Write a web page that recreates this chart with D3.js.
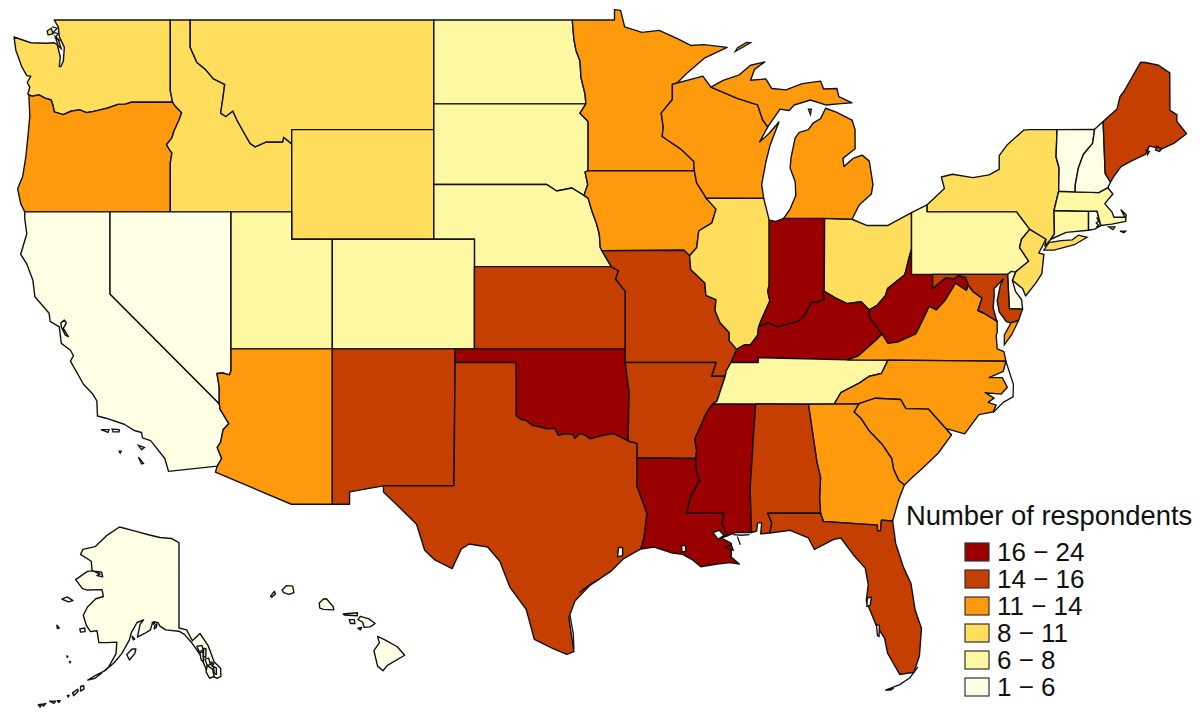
<!DOCTYPE html>
<html>
<head>
<meta charset="utf-8">
<script src="https://cdnjs.cloudflare.com/ajax/libs/d3/7.8.5/d3.min.js"></script>
<style>
html, body { margin: 0; background: #fff; }
svg { display: block; }
text { font-family: "Liberation Sans", Arial, sans-serif; fill: #111; }
</style>
</head>
<body>
<svg id="map" width="1200" height="720"></svg>
<script>
// legend bins, darkest first
var binLabels = ['16 \u2212 24', '14 \u2212 16', '11 \u2212 14', '8 \u2212 11', '6 \u2212 8', '1 \u2212 6'];
var binColors = ['#9a0000', '#c43f00', '#ff9a0c', '#ffde5e', '#fff8a2', '#ffffe6'];
var binStates = [
    ['IN', 'KY', 'WV', 'OK', 'LA', 'MS'],
    ['KS', 'MO', 'AR', 'NM', 'TX', 'AL', 'FL', 'ME', 'MD'],
    ['OR', 'MN', 'IA', 'WI', 'MI', 'AZ', 'GA', 'SC', 'NC', 'VA'],
    ['WA', 'ID', 'MT', 'WY', 'IL', 'OH', 'NY', 'NJ'],
    ['ND', 'SD', 'NE', 'UT', 'CO', 'TN', 'PA', 'MA', 'CT'],
    ['CA', 'NV', 'VT', 'NH', 'DE', 'RI', 'AK', 'HI']
];

// shared borders, lon/lat
var columbia = [[-124.0,46.27],[-123.85,46.22],[-123.5,46.27],[-123.2,46.15],[-122.9,46.08],[-122.8,45.85],[-122.75,45.65],[-122.3,45.55],[-121.9,45.68],[-121.5,45.72],[-121.15,45.62],[-120.9,45.65],[-120.5,45.72],[-120.15,45.78],[-119.6,45.92],[-119.25,45.93],[-118.95,46.0],[-116.92,46.0]];
var snake = [[-116.92,46.0],[-116.78,45.85],[-116.47,45.62],[-116.6,45.35],[-116.85,44.95],[-116.95,44.7],[-117.22,44.45],[-117.03,44.22],[-116.95,44.15],[-117.03,43.8],[-117.03,42]];
var bitterroot = [[-116.05,49],[-116.05,48],[-115.72,47.45],[-115.3,47.2],[-114.9,46.85],[-114.35,46.65],[-114.45,46.1],[-114.55,45.6],[-114.3,45.48],[-113.95,45.68],[-113.75,45.35],[-113.45,44.95],[-113.1,44.5],[-112.85,44.37],[-112.3,44.55],[-111.5,44.55],[-111.45,44.72],[-111.05,44.48]];
var redND = [[-97.23,49],[-97.15,48.3],[-97.05,47.9],[-96.85,47.5],[-96.8,46.9],[-96.6,46.3],[-96.56,45.94]];
var bigStone = [[-96.56,45.94],[-96.85,45.6],[-96.45,45.3],[-96.45,43.5]];
var siouxIA = [[-96.45,43.5],[-96.6,43.45],[-96.47,43.0],[-96.65,42.6],[-96.45,42.5]];
var neSD = [[-104.05,43],[-98.5,43],[-98.0,42.76],[-97.25,42.87],[-96.7,42.62],[-96.45,42.5]];
var moRiverIA = [[-96.45,42.5],[-96.25,42.0],[-96.05,41.6],[-95.9,41.2],[-95.85,40.7],[-95.77,40.58]];
var moRiverKS = [[-95.77,40.58],[-95.31,40],[-94.95,39.85],[-95.1,39.55],[-94.62,39.1]];
var stCroix = [[-92.07,46.7],[-92.3,46.65],[-92.3,46.1],[-92.85,45.6],[-92.75,45.1],[-92.8,44.75],[-91.9,44.3],[-91.25,43.85],[-91.22,43.5]];
var missWI = [[-91.22,43.5],[-91.1,43.05],[-90.75,42.65],[-90.64,42.5]];
var missIL = [[-90.64,42.5],[-90.15,42.1],[-90.35,41.6],[-91.0,41.3],[-91.1,40.7],[-91.45,40.4]];
var desMoines = [[-91.45,40.4],[-91.73,40.6]];
var missMO = [[-91.45,40.4],[-91.4,39.9],[-90.7,39.4],[-90.65,38.95],[-90.15,38.8],[-90.2,38.4],[-89.95,37.95],[-89.5,37.6],[-89.5,37.3],[-89.13,36.98]];
var wabash = [[-87.53,41.7],[-87.53,39.35],[-87.6,39.1],[-87.5,38.75],[-87.95,38.0],[-88.05,37.8]];
var ohioIL = [[-88.05,37.8],[-88.1,37.5],[-88.45,37.15],[-88.75,37.15],[-89.13,36.98]];
var ohioIN = [[-84.82,39.1],[-84.9,39.05],[-84.8,38.8],[-85.2,38.7],[-85.45,38.7],[-85.75,38.27],[-86.1,38.0],[-86.5,37.93],[-87.1,37.8],[-87.6,37.95],[-88.05,37.8]];
var ohioKY = [[-82.6,38.42],[-83.0,38.72],[-83.7,38.65],[-84.25,38.85],[-84.82,39.1]];
var ohioWV = [[-80.52,40.64],[-80.65,40.3],[-80.85,39.7],[-81.7,39.2],[-81.8,38.95],[-82.2,38.6],[-82.6,38.42]];
var tug = [[-82.6,38.42],[-82.6,38.17],[-81.97,37.54]];
var kyVA = [[-83.68,36.6],[-83.13,36.75],[-82.3,37.3],[-81.97,37.54]];
var wvVA = [[-81.97,37.54],[-81.68,37.2],[-81.2,37.25],[-80.3,37.55],[-80.0,38.0],[-79.65,38.55],[-79.3,38.42],[-78.87,38.76],[-78.35,39.4],[-77.82,39.13],[-77.72,39.32]];
var potomacHigh = [[-77.72,39.32],[-77.85,39.6],[-78.2,39.68],[-78.45,39.55],[-78.8,39.6],[-79.05,39.47],[-79.48,39.2],[-79.48,39.72]];
var potomacLow = [[-76.3,38.0],[-76.95,38.3],[-77.25,38.4],[-77.05,38.85],[-77.5,39.1],[-77.72,39.32]];
var bootheel = [[-89.13,36.98],[-89.42,36.5],[-89.7,36.0],[-90.37,36.0],[-90.15,36.5]];
var missTN = [[-89.42,36.5],[-89.65,36.2],[-89.7,36.0],[-90.1,35.1],[-90.3,35.0]];
var missAR = [[-90.3,35.0],[-90.6,34.7],[-90.9,34.2],[-91.2,33.7],[-91.1,33.3],[-91.15,33.0]];
var missLA = [[-91.15,33.0],[-91.1,32.5],[-90.95,32.2],[-91.4,31.6],[-91.6,31.0]];
var redOK = [[-94.48,33.64],[-95.2,33.91],[-95.7,33.85],[-96.36,33.72],[-96.6,33.85],[-96.85,33.91],[-97.1,33.73],[-97.2,33.87],[-97.6,33.9],[-97.92,33.85],[-98.1,34.1],[-98.49,34.08],[-98.8,34.15],[-99.18,34.2],[-99.5,34.38],[-99.75,34.42],[-100,34.56]];
var sabine = [[-94.04,33.02],[-94.04,32.0],[-93.55,31.0],[-93.7,30.1],[-93.85,29.7]];
var tnNC = [[-81.68,36.59],[-82.0,36.1],[-82.6,36.0],[-83.1,35.75],[-84.0,35.4],[-84.32,34.99]];
var savannah = [[-83.11,35.0],[-83.35,34.7],[-83.0,34.45],[-82.6,34.0],[-81.95,33.5],[-81.5,33.0],[-81.4,32.6],[-81.15,32.2],[-80.87,32.03]];
var ncSC = [[-83.11,35.0],[-82.3,35.2],[-81.05,35.15],[-80.8,34.82],[-79.68,34.8],[-78.55,33.86]];
var gaAL = [[-85.6,34.98],[-85.18,32.87],[-85.0,32.3],[-85.05,31.55],[-85.0,31.0]];
var gaFL = [[-85.0,31.0],[-84.86,30.7],[-82.2,30.57],[-82.2,30.36],[-82.05,30.36],[-82.0,30.75],[-81.45,30.72]];
var pearl = [[-89.75,31.0],[-89.85,30.65],[-89.6,30.18]];
var delaware = [[-74.7,41.36],[-75.1,41.0],[-75.2,40.7],[-74.75,40.2],[-75.4,39.8]];
var lakeChamplain = [[-73.35,45],[-73.4,44],[-73.25,43.6],[-73.27,42.75]];
var connRiver = [[-71.5,45.01],[-71.6,44.5],[-72.05,44.1],[-72.3,43.6],[-72.45,43.0],[-72.46,42.73]];

function rev(a) { return a.slice().reverse(); }
function ring() { return [].concat.apply([], arguments); }

var outlines = {
    WA: ring([[-117.03,49],[-122.75,49],[-122.55,48.75],[-122.5,48.4],[-122.25,48.0],[-122.3,47.5],[-122.42,47.3],[-122.5,47.3],[-122.45,47.65],[-122.6,48.1],[-122.75,48.17],[-123.1,48.15],[-123.9,48.17],[-124.73,48.38],[-124.64,47.9],[-124.35,47.3],[-124.1,46.97],[-123.9,46.95],[-124.08,46.72],[-123.95,46.55],[-124.05,46.3]], columbia, [[-117.03,46.42]]),
    OR: ring(columbia, snake, [[-124.2,42],[-124.4,42.3],[-124.55,42.84],[-124.3,43.3],[-124.15,44.0],[-124.05,44.7],[-123.95,45.5]]),
    ID: ring([[-117.03,49]], bitterroot, [[-111.05,42],[-117.03,42]], rev(snake), [[-117.03,46.42]]),
    MT: ring(bitterroot, [[-111.05,45],[-104.05,45],[-104.05,49]]),
    WY: [[-111.05,45],[-104.05,45],[-104.05,41],[-111.05,41]],
    ND: ring([[-104.05,49]], redND, [[-104.05,45.94]]),
    SD: ring([[-104.05,45.94]], bigStone, siouxIA, rev(neSD)),
    NE: ring(neSD, moRiverIA, [[-95.31,40],[-102.05,40],[-102.05,41],[-104.05,41]]),
    CA: [[-124.2,42],[-120,42],[-120,39],[-114.62,35],[-114.58,34.8],[-114.15,34.27],[-114.43,34.05],[-114.55,33.6],[-114.72,33.4],[-114.5,33],[-114.72,32.72],[-117.12,32.53],[-117.3,33],[-118,33.65],[-118.4,33.75],[-118.45,33.95],[-118.8,34.02],[-119.3,34.25],[-120.2,34.47],[-120.62,34.55],[-120.65,35.1],[-120.85,35.35],[-121.3,35.7],[-121.95,36.55],[-121.8,36.75],[-121.95,36.95],[-122.4,37.2],[-122.5,37.8],[-122.95,38],[-123,38.3],[-123.7,38.9],[-123.8,39.5],[-124.1,40.1],[-124.4,40.45],[-124.1,41.2],[-124.2,41.75]],
    NV: [[-120,42],[-114.04,42],[-114.04,36.2],[-114.12,36.05],[-114.45,36.12],[-114.73,36.1],[-114.62,35.6],[-114.62,35],[-120,39]],
    UT: [[-114.04,42],[-111.05,42],[-111.05,41],[-109.05,41],[-109.05,37],[-114.04,37]],
    CO: [[-109.05,41],[-102.05,41],[-102.05,37],[-109.05,37]],
    AZ: [[-114.04,37],[-109.05,37],[-109.05,31.33],[-111.07,31.33],[-114.81,32.5],[-114.72,32.72],[-114.5,33],[-114.72,33.4],[-114.55,33.6],[-114.43,34.05],[-114.15,34.27],[-114.58,34.8],[-114.62,35],[-114.62,35.6],[-114.73,36.1],[-114.45,36.12],[-114.12,36.05],[-114.04,36.2]],
    NM: [[-109.05,37],[-103,37],[-103.06,32],[-106.53,32],[-108.2,31.78],[-108.2,31.33],[-109.05,31.33]],
    KS: ring([[-102.05,40],[-95.31,40]], moRiverKS.slice(2), [[-94.62,37],[-102.05,37]]),
    OK: ring([[-103,37],[-94.62,37],[-94.62,36.5],[-94.43,35.4]], redOK, [[-100,36.5],[-103,36.5]]),
    TX: ring([[-103,36.5],[-100,36.5]], rev(redOK), [[-94.04,33.55]], sabine, [[-94.7,29.35],[-95.3,28.9],[-96.4,28.35],[-97.1,27.8],[-97.4,27.2],[-97.15,25.95],[-97.5,25.85],[-98.2,26.07],[-99.1,26.4],[-99.5,27.5],[-100.3,28.3],[-100.8,29.25],[-101.4,29.77],[-102.3,29.88],[-102.7,29.7],[-103.15,28.98],[-104,29.3],[-104.5,29.65],[-104.9,30.6],[-106,31.4],[-106.53,31.78],[-106.53,32],[-103.06,32]]),
    MN: ring([[-97.23,49],[-95.15,49],[-95.15,49.38],[-94.85,49.35],[-94.65,48.75],[-93.8,48.55],[-92.95,48.62],[-92,48.3],[-91.4,48.07],[-90.75,48.1],[-89.6,48],[-90.7,47.62],[-91.6,47.05]], stCroix, rev(bigStone), rev(redND)),
    IA: ring(rev(siouxIA), missWI, missIL, desMoines, rev(moRiverIA)),
    MO: ring(rev(desMoines), missMO, bootheel, [[-94.62,36.5],[-94.62,39.1]], rev(moRiverKS)),
    AR: ring([[-94.62,36.5],[-90.15,36.5],[-90.37,36],[-89.7,36],[-90.1,35.1]], missAR, [[-94.04,33.02],[-94.04,33.55],[-94.48,33.64],[-94.43,35.4]]),
    LA: ring(sabine, [[-93.2,29.77],[-92.3,29.55],[-91.8,29.5],[-91.3,29.3],[-90.9,29.05],[-90.1,29.15],[-89.45,29.2],[-89,29.15],[-89.4,29.4],[-89.4,29.9],[-89.9,30.1]], rev(pearl), [[-91.6,31]], rev(missLA)),
    MS: ring([[-90.3,35],[-88.2,34.99],[-88.47,31.9],[-88.4,30.3],[-89.2,30.3]], rev(pearl), [[-91.6,31]], rev(missLA), rev(missAR)),
    WI: ring([[-92.07,46.7],[-91.2,46.87],[-90.8,46.95],[-90.4,46.55],[-89.1,46.14],[-88.1,45.9],[-87.85,45.35],[-87.6,45.1],[-88,44.55],[-87.55,44.85],[-87.05,45.28],[-87.5,44.4],[-87.7,43.8],[-87.9,43],[-87.8,42.49],[-90.64,42.5]], rev(missWI), rev(stCroix)),
    IL: ring(missIL, missMO, rev(ohioIL), rev(wabash), [[-87.8,42.49]]),
    IN: ring(wabash, rev(ohioIN), [[-84.8,41.76],[-86.82,41.76],[-87.2,41.65]]),
    OH: ring([[-84.8,41.76],[-83.45,41.73],[-82.7,41.5],[-81.7,41.5],[-80.52,41.97]], ohioWV, ohioKY),
    KY: ring(ohioKY, ohioIN, ohioIL, [[-89.42,36.5],[-88.07,36.5],[-88.07,36.68]], kyVA, rev(tug)),
    TN: ring([[-89.42,36.5],[-88.07,36.5],[-88.07,36.68],[-83.68,36.6]], tnNC, [[-85.6,34.98],[-88.2,34.99]], rev(missTN)),
    WV: ring(ohioWV, tug, wvVA, potomacHigh, [[-80.52,39.72]]),
    VA: ring([[-81.68,36.59],[-75.87,36.55],[-75.97,36.9],[-76.3,37],[-76.35,37.5],[-76.3,37.6],[-76.3,38]], potomacLow, rev(wvVA), rev(kyVA)),
    NC: ring(tnNC, rev(ncSC), [[-77.9,33.9],[-77.2,34.6],[-76.5,34.7],[-76.35,34.95],[-76.75,35.05],[-76.45,35.2],[-76.9,35.4],[-76.1,35.35],[-75.8,35.6],[-76.05,35.95],[-76.7,35.95],[-76,36.18],[-75.87,36.55]]),
    SC: ring(ncSC, [[-79.2,33.2],[-79.9,32.7],[-80.5,32.3],[-80.87,32.03]], rev(savannah)),
    GA: ring([[-85.6,34.98],[-84.32,34.99]], savannah, [[-81.15,31.5]], rev(gaFL), rev(gaAL)),
    AL: ring([[-88.2,34.99]], gaAL, [[-87.6,31],[-87.4,30.65],[-87.5,30.28],[-87.95,30.25],[-87.9,30.65],[-88.1,30.65],[-88.15,30.35],[-88.4,30.3],[-88.47,31.9]]),
    FL: ring([[-87.6,31]], gaFL, [[-81.3,29.9],[-80.9,29],[-80.55,28.45],[-80.35,27.5],[-80.03,26.8],[-80.13,25.8],[-80.4,25.2],[-81.1,25.12],[-81.7,25.9],[-81.85,26.45],[-82.25,26.9],[-82.75,27.8],[-82.65,28.4],[-82.8,29],[-83.4,29.5],[-84,30.1],[-84.35,30.05],[-85.3,29.68],[-85.6,30.1],[-86.5,30.38],[-87.5,30.28],[-87.4,30.65]]),
    MI: ring([[-90.4,46.55],[-89.8,46.8],[-89,47],[-88.45,47.35],[-87.75,47.47],[-88.25,47.2],[-88.45,46.8],[-87.7,46.85],[-87.4,46.5],[-86.7,46.45],[-85.9,46.68],[-85,46.77],[-84.85,46.48],[-84.2,46.5],[-84.1,46.2],[-83.45,45.98],[-84,45.95],[-84.75,45.9],[-85.5,46.08],[-86.3,45.9],[-86.55,45.7],[-87,45.75],[-87.6,45.1],[-87.85,45.35],[-88.1,45.9],[-89.1,46.14]]),
    NY: ring([[-79.76,42.25],[-78.9,42.85],[-79.05,43.27],[-78.5,43.37],[-77.5,43.25],[-76.7,43.35],[-76.2,43.55],[-76.2,44.05],[-75.8,44.45],[-75,44.98],[-74.7,45]], lakeChamplain, [[-73.5,42.05],[-73.48,41.2],[-73.66,41],[-73.95,40.75],[-73.9,41],[-74.7,41.36],[-75.35,42],[-79.76,42]]),
    PA: ring([[-80.52,41.97],[-79.76,42.25],[-79.76,42],[-75.35,42]], delaware, [[-75.79,39.72],[-80.52,39.72]]),
    NJ: ring(delaware, [[-75.55,39.5],[-75.05,39.2],[-74.9,38.93],[-74.4,39.4],[-74.1,39.75],[-74,40.45],[-74.25,40.5],[-73.9,41]]),
    DE: [[-75.79,39.72],[-75.6,39.83],[-75.4,39.8],[-75.55,39.5],[-75.4,39.1],[-75.1,38.8],[-75.05,38.45],[-75.7,38.46]],
    MD: ring([[-79.48,39.72],[-75.79,39.72],[-75.7,38.46],[-75.05,38.45],[-75.25,38.03],[-75.65,37.95],[-75.85,38],[-76.2,38.35],[-76.3,38.75],[-76.15,39.3],[-76,39.55],[-76.45,39.2],[-76.45,38.9],[-76.5,38.5],[-76.35,38.1]], potomacLow, potomacHigh),
    CT: [[-73.5,42.05],[-71.8,42.02],[-71.8,41.33],[-72.9,41.25],[-73.66,41],[-73.48,41.2]],
    RI: [[-71.8,42.02],[-71.38,42.02],[-71.2,41.5],[-71.5,41.37],[-71.8,41.33]],
    MA: [[-73.27,42.75],[-71.3,42.7],[-70.85,42.88],[-70.6,42.65],[-71,42.3],[-70.65,42],[-70.55,41.8],[-70,41.8],[-70.2,42.07],[-69.95,41.9],[-69.97,41.65],[-70.65,41.55],[-71.2,41.5],[-71.38,42.02],[-71.8,42.02],[-73.5,42.05]],
    VT: ring(lakeChamplain, rev(connRiver)),
    NH: ring(connRiver, [[-71.3,42.7],[-70.85,42.88],[-70.72,43.08],[-70.98,43.4],[-71.08,45.3]]),
    ME: [[-71.08,45.3],[-70.4,45.75],[-70.25,46.2],[-70.05,46.4],[-69.23,47.46],[-69,47.45],[-68.35,47.35],[-67.8,47.07],[-67.79,45.7],[-67.45,45.55],[-67.45,45.3],[-66.97,44.85],[-67.6,44.5],[-68.2,44.3],[-68.8,44.4],[-69,44.1],[-69.7,43.85],[-70.2,43.65],[-70.55,43.3],[-70.72,43.08],[-70.98,43.4]]
};
outlines.MI2 = [[-86.82,41.76],[-84.8,41.76],[-83.45,41.73],[-83.1,42.25],[-82.5,42.65],[-82.42,43],[-82.6,43.85],[-82.95,44.07],[-83.4,43.95],[-83.85,43.65],[-83.9,43.95],[-83.3,44.3],[-83.3,45],[-83.45,45.35],[-84.2,45.63],[-84.75,45.78],[-85,45.4],[-85.35,45.25],[-85.6,45],[-86.05,44.9],[-86.25,44.7],[-86.45,44],[-86.5,43.6],[-86.25,43.1],[-86.22,42.6],[-86.5,42.1]];

// islands that take the colour of their state
var islands = [
    ['NY', [[-74,40.6],[-73.75,40.88],[-73.15,40.95],[-72.6,40.98],[-72.3,41.15],[-71.87,41.07],[-72.5,40.8],[-73.5,40.6]]],
    ['VA', [[-75.62,37.95],[-75.25,38.03],[-75.6,37.5],[-75.95,37.15],[-75.95,37.5]]],
    ['MI', [[-89.2,47.85],[-88.45,48.17],[-88.65,48.18],[-89.1,47.98]]],
    ['MI', [[-85.6,45.75],[-85.45,45.75],[-85.5,45.55]]],
    ['WA', [[-123.1,48.6],[-122.9,48.7],[-122.8,48.5],[-123.05,48.45]]],
    ['WA', [[-122.7,48.4],[-122.55,48.3],[-122.4,47.95],[-122.55,48.05]]],
    ['LA', [[-89.7,29.75],[-89.3,29.65],[-89.4,29.85]]],
    ['ME', [[-68.45,44.4],[-68.2,44.3],[-68.3,44.2],[-68.5,44.25]]],
    ['ME', [[-68.95,44.25],[-68.8,44.2],[-68.9,44.08]]],
    ['MA', [[-70.8,41.45],[-70.5,41.45],[-70.6,41.35]]],
    ['MA', [[-70.25,41.3],[-69.97,41.3],[-70.05,41.24]]],
    ['FL', [[-81.8,24.55],[-81.4,24.62],[-81.55,24.55]]],
    ['CA', [[-120.45,34.05],[-120.05,34.05],[-120.1,33.95]]],
    ['CA', [[-119.9,34.07],[-119.55,34.05],[-119.55,33.97],[-119.85,33.97]]],
    ['CA', [[-118.6,33.48],[-118.3,33.4],[-118.45,33.32]]],
    ['CA', [[-118.6,33.05],[-118.35,32.82],[-118.45,32.8]]],
    ['CA', [[-119.55,33.27],[-119.45,33.27],[-119.5,33.2]]]
];

// bays and sounds cut back out in white
var water = [
    [[-122.42,37.95],[-122.25,38.05],[-122.15,37.95],[-122.3,37.75],[-122.05,37.45],[-122.2,37.5],[-122.4,37.8]],
    [[-82.7,27.9],[-82.5,27.95],[-82.55,27.65],[-82.72,27.6]],
    [[-82.25,26.95],[-82.1,26.9],[-82.12,26.5],[-82.2,26.55]],
    [[-94.95,29.75],[-94.75,29.75],[-94.75,29.45],[-95,29.42]],
    [[-91.85,29.82],[-91.65,29.82],[-91.65,29.62],[-91.82,29.58]],
    [[-90.3,30.3],[-90,30.38],[-89.75,30.2],[-90.05,30.05]]
];

// outer banks, keys and other thin barrier strips
var strips = [
    [[-75.87,36.55],[-75.5,35.7],[-75.52,35.25],[-76,35.05],[-76.5,34.68]],
    [[-80.2,25.4],[-80.6,25],[-81.1,24.75],[-81.8,24.55]],
    [[-88.5,30.22],[-88.9,30.2],[-89.3,30.22]],
    [[-89.1,30.15],[-88.95,29.85]],
    [[-97.35,27.3],[-97.18,26.6],[-97.15,26.05]],
    [[-96.9,28.1],[-96.4,28.38],[-95.9,28.6]],
    [[-71.4,41.8],[-71.3,41.65],[-71.42,41.6],[-71.3,41.5],[-71.42,41.45]],
    [[-122.85,48.75],[-122.6,48.7],[-122.8,48.55],[-122.55,48.5],[-122.7,48.35],[-122.45,48.25]]
];

var alaska = [[-141,69.65],[-143,70.1],[-146,70.2],[-149,70.5],[-152,70.85],[-156.6,71.35],[-160,70.4],[-163,69.2],[-166.2,68.9],[-166.8,68.35],[-164,67.6],[-163.8,66.6],[-161.7,66.2],[-162.5,66.05],[-161,65.9],[-161.3,66.4],[-163.8,66.55],[-165,66.5],[-168.1,65.6],[-166.3,64.6],[-165,64.45],[-161.2,64.5],[-160.8,63.75],[-162.8,63.5],[-165,62.6],[-166.1,61.7],[-165.3,60.6],[-164.2,59.9],[-162.5,60],[-162,58.7],[-160,58.7],[-157.3,58.75],[-157.5,57.5],[-159.5,56],[-161.5,55.3],[-163,54.8],[-164.9,54.6],[-163,55.1],[-160.5,55.6],[-158,56.5],[-156,57.5],[-154,59],[-153.5,59.8],[-152,60.9],[-150.3,61.2],[-151.2,60.7],[-151.9,59.3],[-150,59.7],[-148.5,60.1],[-147.9,60.9],[-146.5,60.9],[-146,60.5],[-144.5,60.1],[-141,59.95],[-139.6,59.6],[-137.5,58.6],[-135.5,57.4],[-133.3,55.2],[-131,54.8],[-130,55],[-130.1,55.9],[-131.8,56.6],[-133.4,58.4],[-135.5,59.7],[-137.5,58.9],[-139,60.1],[-141,60.3]];
var alaskaIslands = [
    [[-154.7,57.4],[-153.3,58],[-152.3,58],[-152.6,57.5],[-154,56.8]],
    [[-167,60.2],[-165.7,60.3],[-165.6,59.9],[-166.8,59.85]],
    [[-171.7,63.45],[-170.3,63.7],[-168.8,63.3],[-170,63.15]],
    [[-173,60.6],[-172.4,60.3],[-172.9,60.25]],
    [[-170.4,57.25],[-170.1,57.2],[-170.3,57.1]],
    [[-169.7,56.65],[-169.4,56.6],[-169.6,56.5]],
    [[-153.3,59.4],[-152.6,59.1],[-153,59]],
    [[-147.3,60.6],[-146.8,60.75],[-146.9,60.4],[-147.5,60.2]],
    [[-148,60.9],[-147.3,61],[-147.6,60.7]],
    [[-136.3,58.3],[-135,58.4],[-134.7,57.9],[-135.7,57.7]],
    [[-135.5,57.6],[-134.7,57.7],[-134.6,56.6],[-135.2,56.8]],
    [[-134.5,58.1],[-133.9,58],[-134,57.1],[-134.6,57.2]],
    [[-134.2,56.9],[-133.2,57],[-132.8,56.3],[-133.6,56.2]],
    [[-133.6,56.2],[-132.2,55.8],[-131.8,55],[-133,54.8],[-133.9,55.5]],
    [[-132.6,56.6],[-131.9,56.4],[-132.3,56.1]],
    [[-132,56.1],[-131.2,55.9],[-131.2,55.2],[-131.7,55.3]],
    [[-166.8,53.9],[-166,54],[-165.9,53.6],[-166.8,53.4]],
    [[-168.9,53.2],[-167.6,53.6],[-167.4,53.4],[-168.6,52.9]],
    [[-170.3,52.9],[-169.8,52.95],[-170,52.75]],
    [[-172.9,52.35],[-172.1,52.35],[-172.5,52.15]],
    [[-174.9,52.3],[-173.3,52.3],[-173.8,52.05]],
    [[-176.9,51.95],[-175.9,52.05],[-176.5,51.75]],
    [[-177.9,51.9],[-177,51.95],[-177.4,51.65]]
];
var hawaii = [
    [[-159.78,22.05],[-159.6,22.22],[-159.35,22.2],[-159.3,21.95],[-159.5,21.88],[-159.72,21.95]],
    [[-160.25,21.8],[-160.1,22],[-160.05,21.9],[-160.2,21.77]],
    [[-158.27,21.55],[-158.1,21.7],[-157.98,21.71],[-157.7,21.4],[-157.68,21.28],[-158.1,21.3],[-158.25,21.35]],
    [[-157.3,21.12],[-156.72,21.17],[-156.72,21.05],[-157.25,21.08]],
    [[-157.05,20.9],[-156.85,20.9],[-156.82,20.75],[-157,20.75]],
    [[-156.7,20.9],[-156.6,21.03],[-156.25,20.93],[-156,20.75],[-156.2,20.62],[-156.45,20.6],[-156.5,20.8]],
    [[-156.7,20.57],[-156.55,20.6],[-156.6,20.5]],
    [[-155.9,20.25],[-155.6,20.12],[-155.1,19.85],[-154.8,19.52],[-155.5,19.13],[-155.68,18.92],[-155.9,19.1],[-156.05,19.7],[-155.83,20]]
];

(function() {
    'use strict';

    var svg = d3.select('#map'),
    STROKE = '#111',

    // lower 48, AK and HI each sit on their own plain lon/lat scales
    x = d3.scaleLinear().domain([-124.73, -66.95]).range([14, 1187]),
    y = d3.scaleLinear().domain([49, 25.1]).range([20, 675]),
    xAK = d3.scaleLinear().domain([-141, -168]).range([179, 76]),
    yAK = d3.scaleLinear().domain([69.6, 60.3]).range([543, 628]),
    xHI = d3.scaleLinear().domain([-159.5, -155.68]).range([289, 383]),
    yHI = d3.scaleLinear().domain([22.05, 18.91]).range([590, 671]),

    pathOf = function(sx, sy) {
        return d3.line()
            .x(function(d) { return sx(d[0]); })
            .y(function(d) { return sy(d[1]); });
    },
    line48 = pathOf(x, y),
    lineAK = pathOf(xAK, yAK),
    lineHI = pathOf(xHI, yHI),

    fillOf = d3.scaleOrdinal().domain(d3.range(binLabels.length)).range(binColors),
    binOf = function(code) {
        return d3.range(binStates.length).filter(function(i) {
            return binStates[i].indexOf(code.slice(0, 2)) >= 0;
        })[0];
    },
    colorOf = function(code) { return fillOf(binOf(code)); },

    draw = function(cls, data, gen, fill) {
        svg.append('g').attr('class', cls)
            .selectAll('path').data(data).enter().append('path')
            .attr('d', function(d) { return gen(d) + 'Z'; })
            .attr('fill', fill)
            .attr('stroke', STROKE)
            .attr('stroke-width', 1.4)
            .attr('stroke-linejoin', 'round');
    },
    legend, rows;

    svg.append('g').attr('class', 'states')
        .selectAll('path').data(Object.keys(outlines)).enter().append('path')
        .attr('d', function(k) { return line48(outlines[k]) + 'Z'; })
        .attr('fill', colorOf)
        .attr('stroke', STROKE)
        .attr('stroke-width', 1.4)
        .attr('stroke-linejoin', 'round');

    svg.append('g').attr('class', 'islands')
        .selectAll('path').data(islands).enter().append('path')
        .attr('d', function(d) { return line48(d[1]) + 'Z'; })
        .attr('fill', function(d) { return colorOf(d[0]); })
        .attr('stroke', STROKE)
        .attr('stroke-width', 1.3);

    draw('water', water, line48, '#fff');

    svg.append('g').attr('class', 'strips')
        .selectAll('path').data(strips).enter().append('path')
        .attr('d', line48)
        .attr('fill', 'none')
        .attr('stroke', STROKE)
        .attr('stroke-width', 1.3);

    draw('alaska', [alaska].concat(alaskaIslands), lineAK, colorOf('AK'));
    draw('hawaii', hawaii, lineHI, colorOf('HI'));

    legend = svg.append('g').attr('class', 'legend');
    legend.append('text')
        .attr('x', 906).attr('y', 525)
        .attr('font-size', 27.4)
        .text('Number of respondents');

    rows = legend.selectAll('g.row').data(binLabels).enter().append('g')
        .attr('class', 'row')
        .attr('transform', function(d, i) { return 'translate(0,' + (543 + i * 27) + ')'; });
    rows.append('rect')
        .attr('x', 965).attr('y', 0).attr('width', 24).attr('height', 18)
        .attr('fill', function(d, i) { return binColors[i]; })
        .attr('stroke', '#333').attr('stroke-width', 1.2);
    rows.append('text')
        .attr('x', 997).attr('y', 18)
        .attr('font-size', 26)
        .text(function(d) { return d; });
}());
</script>
</body>
</html>
